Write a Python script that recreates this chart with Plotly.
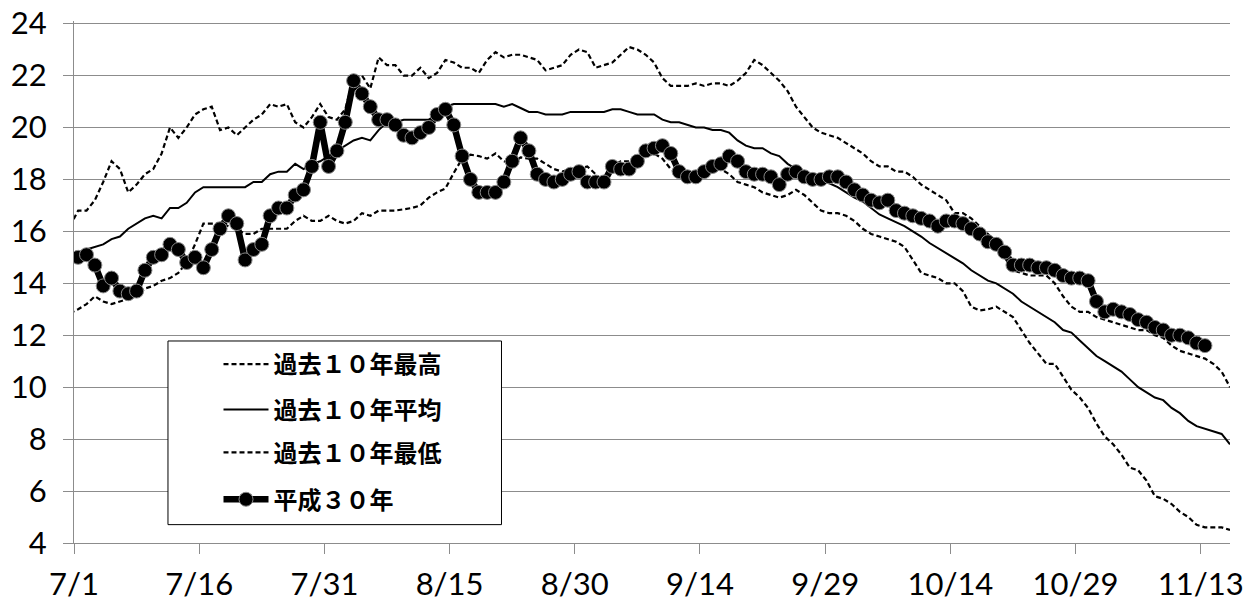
import pandas as pd
import plotly.graph_objects as go

# ---------------- data ----------------
tick_labels = ["7/1", "7/16", "7/31", "8/15", "8/30", "9/14", "9/29", "10/14", "10/29", "11/13"]
tick_days = [0, 15, 30, 45, 60, 75, 90, 105, 120, 135]

# past 10 years: daily values 6/30 .. 11/16
max_vals = [16.2, 16.8, 16.8, 17.2, 17.9, 18.7, 18.4, 17.5, 17.8, 18.2, 18.4,
            19.0, 20.0, 19.6, 20.0, 20.5, 20.7, 20.8, 19.9, 20.0, 19.7,
            20.0, 20.3, 20.5, 20.9, 20.8, 20.9, 20.2, 20.0, 20.4, 20.9,
            20.4, 20.3, 20.7, 21.9, 22.0, 21.5, 22.7, 22.4, 22.4, 22.0,
            22.0, 22.3, 21.9, 22.1, 22.6, 22.5, 22.3, 22.3, 22.1, 22.6,
            22.9, 22.7, 22.8, 22.8, 22.7, 22.6, 22.2, 22.3, 22.4, 22.8,
            23.0, 22.9, 22.3, 22.4, 22.5, 22.8, 23.1, 23.0, 22.8, 22.5,
            21.9, 21.6, 21.6, 21.6, 21.7, 21.6, 21.7, 21.7, 21.6, 21.8,
            22.1, 22.6, 22.4, 22.1, 21.8, 21.4, 20.8, 20.4, 20.0, 19.8,
            19.7, 19.6, 19.4, 19.2, 19.0, 18.7, 18.5, 18.5, 18.3, 18.3,
            18.1, 17.8, 17.6, 17.4, 17.2, 16.7, 16.7, 16.5, 16.2, 15.9,
            15.5, 15.0, 14.5, 14.4, 14.3, 14.3, 14.3, 14.0, 13.5, 13.1,
            12.9, 12.9, 12.7, 12.6, 12.5, 12.4, 12.3, 12.2, 12.2, 12.0,
            11.9, 11.6, 11.4, 11.3, 11.2, 11.1, 10.9, 10.6, 10.0]

mean_vals = [14.7, 15.1, 15.3, 15.4, 15.5, 15.7, 15.8, 16.1, 16.3, 16.5, 16.6,
             16.5, 16.9, 16.9, 17.1, 17.5, 17.7, 17.7, 17.7, 17.7, 17.7,
             17.7, 17.9, 17.9, 18.2, 18.3, 18.3, 18.6, 18.4, 18.6, 18.7,
             18.9, 19.1, 19.3, 19.5, 19.6, 19.5, 19.9, 20.2, 20.2, 20.3,
             20.3, 20.3, 20.3, 20.5, 20.8, 20.9, 20.9, 20.9, 20.9, 20.9,
             20.9, 20.8, 20.9, 20.75, 20.6, 20.6, 20.5, 20.5, 20.5, 20.6,
             20.6, 20.6, 20.6, 20.6, 20.7, 20.7, 20.6, 20.5, 20.5, 20.5,
             20.3, 20.2, 20.2, 20.1, 20.0, 20.0, 19.9, 19.9, 19.8, 19.5,
             19.3, 19.2, 19.2, 19.0, 18.9, 18.6, 18.4, 18.2, 18.0, 17.9,
             17.85, 17.7, 17.5, 17.3, 17.15, 16.9, 16.65, 16.5, 16.35, 16.2,
             16.0, 15.8, 15.55, 15.35, 15.15, 14.95, 14.77, 14.5, 14.3, 14.1,
             14.0, 13.8, 13.6, 13.3, 13.1, 12.9, 12.7, 12.5, 12.2, 12.1,
             11.8, 11.5, 11.2, 11.0, 10.8, 10.6, 10.3, 10.0, 9.8, 9.6,
             9.5, 9.2, 9.0, 8.7, 8.5, 8.4, 8.3, 8.2, 7.8]

min_vals = [12.85, 13.0, 13.2, 13.5, 13.3, 13.2, 13.3, 13.4, 13.5, 13.8, 13.9,
            14.1, 14.2, 14.4, 14.8, 15.5, 16.3, 16.3, 16.3, 16.2, 16.1,
            15.9, 15.9, 16.1, 16.1, 16.1, 16.1, 16.4, 16.6, 16.4, 16.4,
            16.6, 16.4, 16.3, 16.4, 16.7, 16.6, 16.8, 16.8, 16.8, 16.85,
            16.9, 17.0, 17.3, 17.5, 17.65, 18.25, 18.8, 18.95, 18.9, 18.8,
            19.0, 18.7, 18.6, 18.85, 18.8, 18.8, 18.6, 18.4, 18.3, 18.4,
            18.4, 18.5, 18.2, 17.9, 18.5, 18.7, 18.7, 18.8, 18.9, 19.0,
            18.8, 18.4, 18.2, 18.1, 18.1, 18.3, 18.4, 18.4, 18.2, 17.9,
            17.8, 17.7, 17.5, 17.4, 17.3, 17.4, 17.6, 17.4, 17.1, 16.8,
            16.7, 16.7, 16.6, 16.4, 16.1, 15.9, 15.8, 15.7, 15.6, 15.4,
            14.9, 14.4, 14.3, 14.2, 14.0, 14.0, 13.7, 13.1, 12.95, 13.0,
            13.1, 12.9, 12.7, 12.2, 11.7, 11.3, 10.9, 10.9, 10.4, 9.9,
            9.6, 9.2, 8.6, 8.1, 7.8, 7.4, 6.9, 6.8, 6.4, 5.8,
            5.7, 5.5, 5.2, 5.0, 4.7, 4.6, 4.6, 4.6, 4.5]

# H30 (2018): daily values 7/1 .. 11/13
h30_vals = [15.0, 15.1, 14.7, 13.9, 14.2, 13.7, 13.6, 13.7, 14.5, 15.0,
            15.1, 15.5, 15.3, 14.8, 15.0, 14.6, 15.3, 16.1, 16.6, 16.3,
            14.9, 15.3, 15.5, 16.6, 16.9, 16.9, 17.4, 17.6, 18.5, 20.2,
            18.5, 19.1, 20.2, 21.8, 21.3, 20.8, 20.3, 20.3, 20.1, 19.7,
            19.6, 19.8, 20.0, 20.5, 20.7, 20.1, 18.9, 18.0, 17.5, 17.5,
            17.5, 17.9, 18.7, 19.6, 19.1, 18.2, 18.0, 17.9, 18.0, 18.2,
            18.3, 17.9, 17.9, 17.9, 18.5, 18.4, 18.4, 18.7, 19.1, 19.2,
            19.3, 19.0, 18.3, 18.1, 18.1, 18.3, 18.5, 18.6, 18.9, 18.7,
            18.3, 18.2, 18.2, 18.1, 17.8, 18.2, 18.3, 18.1, 18.0, 18.0,
            18.1, 18.1, 17.9, 17.6, 17.4, 17.2, 17.1, 17.2, 16.8, 16.7,
            16.6, 16.5, 16.4, 16.2, 16.4, 16.4, 16.3, 16.1, 15.9, 15.6,
            15.5, 15.2, 14.7, 14.7, 14.7, 14.6, 14.6, 14.5, 14.3, 14.2,
            14.2, 14.1, 13.3, 12.9, 13.0, 12.9, 12.8, 12.6, 12.5, 12.3,
            12.2, 12.0, 12.0, 11.9, 11.7, 11.6]

names = ["過去１０年最高", "過去１０年平均", "過去１０年最低", "平成３０年"]

# ---------------- positions ----------------
base = pd.Timestamp("2018-07-01")
half = pd.Timedelta(hours=12)
hist_x = [base + pd.Timedelta(days=i - 1) + half for i in range(len(max_vals))]
h30_x = [base + pd.Timedelta(days=i) + half for i in range(len(h30_vals))]
tick_x = [base + pd.Timedelta(days=d) for d in tick_days]
x_end = base + pd.Timedelta(days=138) + half

fig = go.Figure()
dash = "5px,3px"
fig.add_trace(go.Scatter(x=hist_x, y=max_vals, name=names[0], mode="lines",
                         line=dict(color="black", width=2.2, dash=dash), legend="legend"))
fig.add_trace(go.Scatter(x=hist_x, y=mean_vals, name=names[1], mode="lines",
                         line=dict(color="black", width=2), legend="legend2"))
fig.add_trace(go.Scatter(x=hist_x, y=min_vals, name=names[2], mode="lines",
                         line=dict(color="black", width=2.2, dash=dash), legend="legend3"))
fig.add_trace(go.Scatter(x=h30_x, y=h30_vals, name=names[3], mode="lines+markers",
                         line=dict(color="black", width=6.5),
                         marker=dict(size=14, color="black", line=dict(color="#8a8a8a", width=1)),
                         legend="legend4"))

grid_c = "#8c8c8c"
tick_font = dict(family="Lato", size=31, color="black")
fig.update_xaxes(type="date", range=[base, x_end], tickvals=tick_x, ticktext=tick_labels,
                 showgrid=False, showline=True, linecolor=grid_c, linewidth=1,
                 ticks="outside", ticklen=10, tickcolor=grid_c, tickwidth=1,
                 tickfont=tick_font, ticklabelstandoff=4,
                 zeroline=False, automargin=False)
fig.update_yaxes(range=[4, 24.1], tickvals=list(range(4, 25, 2)),
                 showgrid=True, gridcolor=grid_c, gridwidth=1,
                 showline=True, linecolor=grid_c, linewidth=1,
                 ticks="outside", ticklen=10, tickcolor=grid_c, tickwidth=1,
                 tickfont=tick_font, ticklabelstandoff=10,
                 zeroline=False, automargin=False)

# legend box
fig.add_shape(type="rect", xref="paper", yref="paper", x0=0.0813, x1=0.3698, y0=0.0352, y1=0.3870,
              line=dict(color="black", width=1), fillcolor="white", layer="above")

leg_font = dict(family="Noto Sans CJK JP", size=24, color="black", weight="bold")
leg_common = dict(x=0.125, xanchor="left", yanchor="middle", bgcolor="rgba(0,0,0,0)",
                  borderwidth=0, font=leg_font, itemwidth=45)
fig.update_layout(
    width=1260, height=608,
    margin=dict(l=74, r=30, t=21, b=65, autoexpand=False),
    paper_bgcolor="white", plot_bgcolor="white",
    showlegend=True,
    legend=dict(y=0.342, **leg_common),
    legend2=dict(y=0.255, **leg_common),
    legend3=dict(y=0.173, **leg_common),
    legend4=dict(y=0.083, **leg_common),
)

# remove the browser's default 8px page margin so the figure fills the window
fig.write_html("out.html", config={"displayModeBar": False},
               post_script="document.body.style.margin='0';document.body.style.overflow='hidden';")
